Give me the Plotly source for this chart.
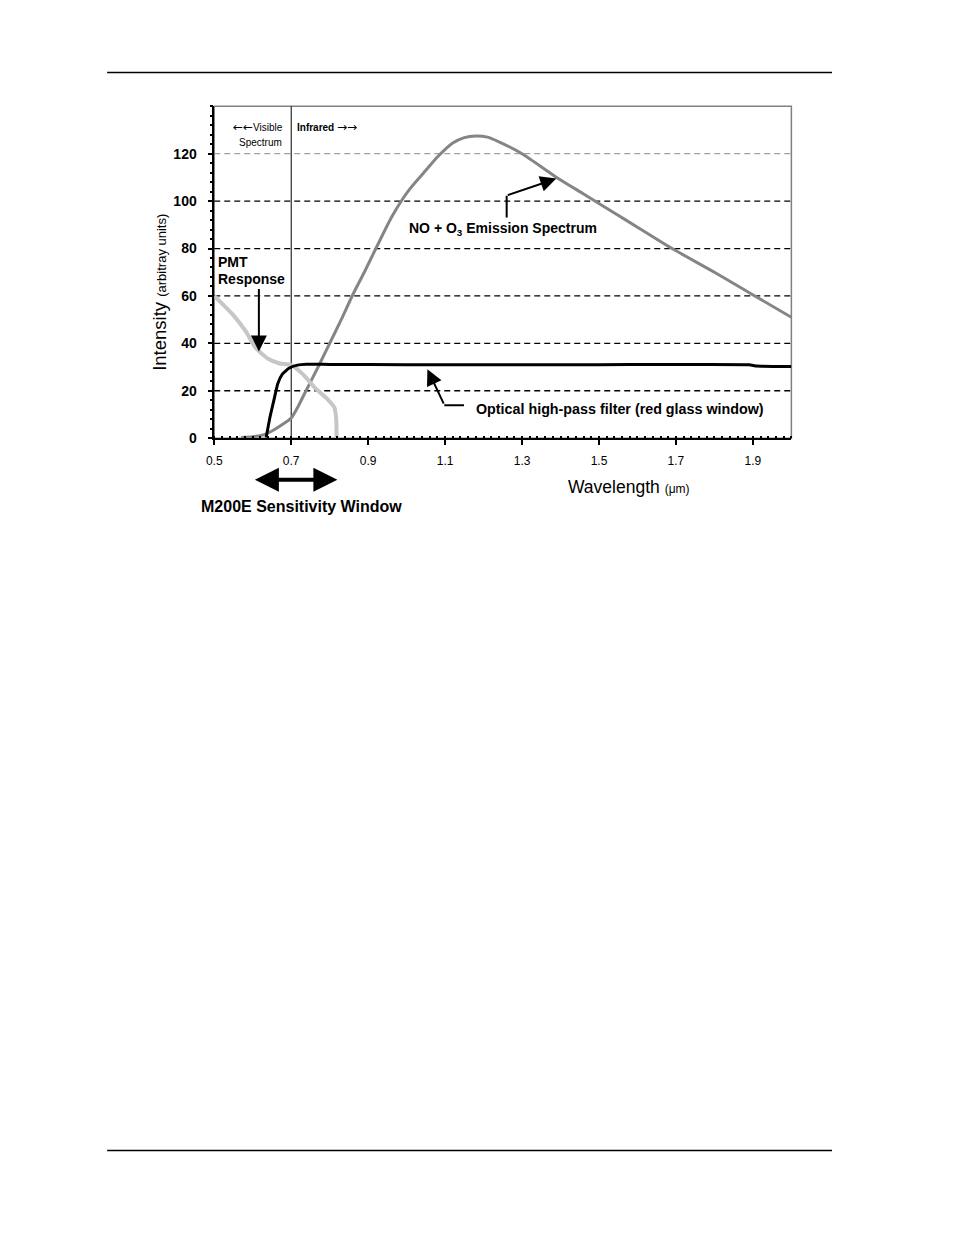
import plotly.graph_objects as go

# ---------------- data ----------------
emission_x = [0.57, 0.60, 0.63, 0.65, 0.67, 0.70, 0.72, 0.74, 0.77, 0.80, 0.83, 0.86, 0.89, 0.92,
              0.96, 0.99, 1.01, 1.05, 1.08, 1.12, 1.15, 1.18, 1.21, 1.24, 1.30, 1.39, 1.46, 1.54,
              1.60, 1.69, 1.80, 1.905, 2.0]
emission_y = [0.3, 0.6, 1.5, 3, 5, 8.5, 14, 20.5, 30, 40, 50, 60.5, 70, 80,
              93, 101, 105.5, 113, 118.6, 124.5, 126.8, 127.5, 127, 125, 120, 110, 103, 95,
              89, 80, 70, 60, 51]

pmt_x = [0.50, 0.525, 0.549, 0.582, 0.608, 0.64, 0.67, 0.70, 0.73, 0.763, 0.794, 0.812, 0.817, 0.818]
pmt_y = [60, 56, 52, 45, 38, 33.5, 31.5, 30.8, 27, 21, 16.5, 13, 8, 0]

filter_x = [0.635, 0.645, 0.655, 0.665, 0.677, 0.694, 0.716, 0.74, 0.80, 1.0, 1.5, 1.89, 1.91, 2.0]
filter_y = [0.3, 9, 16, 23, 27, 29.5, 30.8, 31.2, 31.1, 31.0, 31.0, 31.0, 30.4, 30.2]

x_ticks = [0.5, 0.7, 0.9, 1.1, 1.3, 1.5, 1.7, 1.9]
y_ticks = [0, 20, 40, 60, 80, 100, 120]
grid_black = [20, 40, 60, 80, 100]
grid_gray = [120]

W, H = 954, 1235
FONT = "Liberation Sans, Arial, sans-serif"


def px(x):
    return x / W


def py(y):
    return 1 - y / H


fig = go.Figure()

fig.add_trace(go.Scatter(x=emission_x, y=emission_y, mode="lines",
                         line=dict(color="#858585", width=3, shape="spline", smoothing=0.6),
                         hoverinfo="skip", showlegend=False))
fig.add_trace(go.Scatter(x=pmt_x, y=pmt_y, mode="lines",
                         line=dict(color="#c6c6c6", width=4, shape="spline", smoothing=0.5),
                         hoverinfo="skip", showlegend=False))
fig.add_trace(go.Scatter(x=filter_x, y=filter_y, mode="lines",
                         line=dict(color="#000000", width=3, shape="spline", smoothing=0.4),
                         hoverinfo="skip", showlegend=False))

shapes = []
shapes.append(dict(type="rect", xref="x domain", yref="y domain", x0=0, x1=1, y0=0, y1=1,
                   line=dict(color="#808080", width=1.5), layer="below"))
for v in grid_black:
    shapes.append(dict(type="line", xref="x domain", yref="y", x0=0, x1=1, y0=v, y1=v,
                       line=dict(color="black", width=1.3, dash="6px,4px"), layer="below"))
for v in grid_gray:
    shapes.append(dict(type="line", xref="x domain", yref="y", x0=0, x1=1, y0=v, y1=v,
                       line=dict(color="#8a8a8a", width=1, dash="6px,4px"), layer="below"))
shapes.append(dict(type="line", xref="x", yref="y domain", x0=0.7, x1=0.7, y0=0, y1=1,
                   line=dict(color="black", width=1), layer="below"))
shapes.append(dict(type="line", xref="x", yref="y", x0=1.260, x1=1.260, y0=93.1, y1=102.3,
                   line=dict(color="black", width=2)))
shapes.append(dict(type="line", xref="x", yref="y", x0=1.098, x1=1.149, y0=13.9, y1=13.9,
                   line=dict(color="black", width=2)))
shapes.append(dict(type="line", xref="paper", yref="paper", x0=px(100), x1=px(831), y0=py(73), y1=py(73),
                   line=dict(color="black", width=1.5)))
shapes.append(dict(type="line", xref="paper", yref="paper", x0=px(100), x1=px(831), y0=py(1158), y1=py(1158),
                   line=dict(color="black", width=1.5)))

ann = []


def text(x, y, t, size, bold=False, xanchor="left", angle=0):
    ann.append(dict(xref="paper", yref="paper", x=px(x), y=py(y), text=t, showarrow=False,
                    xanchor=xanchor, yanchor="middle", textangle=angle,
                    font=dict(family=FONT, size=size, color="black",
                              weight="bold" if bold else "normal")))


ARR = "font-family:DejaVu Sans;font-size:12px;font-weight:normal"
text(279, 128, f"<span style='{ARR}'>←←</span>Visible", 10, xanchor="right")
text(278, 143, "Spectrum", 10, xanchor="right")
text(289, 128, f"Infrared <span style='{ARR}'>→→</span>", 10, bold=True)
text(210, 264, "PMT", 14, bold=True)
text(210, 281, "Response", 14, bold=True)
text(499, 230, "NO + O<sub>3</sub> Emission Spectrum", 14, bold=True, xanchor="center")
text(470, 412, "Optical high-pass filter (red glass window)", 14.3, bold=True)
text(193, 510, "M200E Sensitivity Window", 16, bold=True)
text(563, 490, "Wavelength <span style='font-size:12px'>(μm)</span>", 17.5)
ann.append(dict(xref="paper", yref="paper", x=px(152), y=py(294),
                text="Intensity <span style='font-size:13px'>(arbitray units)</span>",
                showarrow=False, textangle=-90, xanchor="center", yanchor="middle",
                font=dict(family=FONT, size=18.5, color="black")))

ann.append(dict(xref="x", yref="y", x=0.616, y=36.6, ax=0, ay=-64, text="", showarrow=True,
                arrowhead=2, arrowsize=1.6, arrowwidth=2, arrowcolor="black"))
ann.append(dict(xref="x", yref="y", x=1.389, y=109.5, ax=-50, ay=17, text="", showarrow=True,
                arrowhead=2, arrowsize=1.6, arrowwidth=2, arrowcolor="black"))
ann.append(dict(xref="x", yref="y", x=1.054, y=29.1, ax=17, ay=36, text="", showarrow=True,
                arrowhead=2, arrowsize=1.6, arrowwidth=2, arrowcolor="black"))
ann.append(dict(xref="x", yref="paper", x=0.82, y=py(483), ax=-84, ay=0, text="", showarrow=True,
                arrowhead=2, arrowsize=1.2, arrowwidth=4, arrowcolor="black",
                arrowside="end+start", startarrowhead=2, startarrowsize=1.2))

fig.update_layout(
    width=W, height=H, autosize=False,
    margin=dict(l=0, r=0, t=0, b=0),
    paper_bgcolor="white", plot_bgcolor="white",
    shapes=shapes, annotations=ann, showlegend=False,
    xaxis=dict(domain=[208 / W, 790 / W], range=[0.5, 2.0], tickvals=x_ticks,
               ticktext=[f"{v:.1f}" for v in x_ticks],
               showgrid=False, zeroline=False, showline=True, linecolor="black", linewidth=1.5,
               ticks="outside", ticklen=5, tickwidth=1.5, tickcolor="black",
               minor=dict(dtick=0.02, tick0=0.5, ticks="inside", ticklen=2, tickcolor="black", showgrid=False),
               tickfont=dict(family=FONT, size=12, color="black"), ticklabelstandoff=6),
    yaxis=dict(domain=[1 - 441 / H, 1 - 107 / H], range=[0, 140], tickvals=y_ticks,
               showgrid=False, zeroline=False, showline=True, linecolor="black", linewidth=1.5,
               ticks="outside", ticklen=5, tickwidth=1.5, tickcolor="black",
               minor=dict(dtick=4, tick0=0, ticks="outside", ticklen=3, tickcolor="black", showgrid=False),
               tickfont=dict(family=FONT, size=14, color="black", weight="bold"), ticklabelstandoff=8),
)

fig.write_html(
    "out.html",
    post_script=(
        "document.documentElement.style.margin='0';"
        "document.body.style.margin='0';document.body.style.padding='0';"
        "var d=document.getElementById('{plot_id}');"
        "d.style.position='absolute';d.style.left='0px';d.style.top='0px';"
    ),
)
